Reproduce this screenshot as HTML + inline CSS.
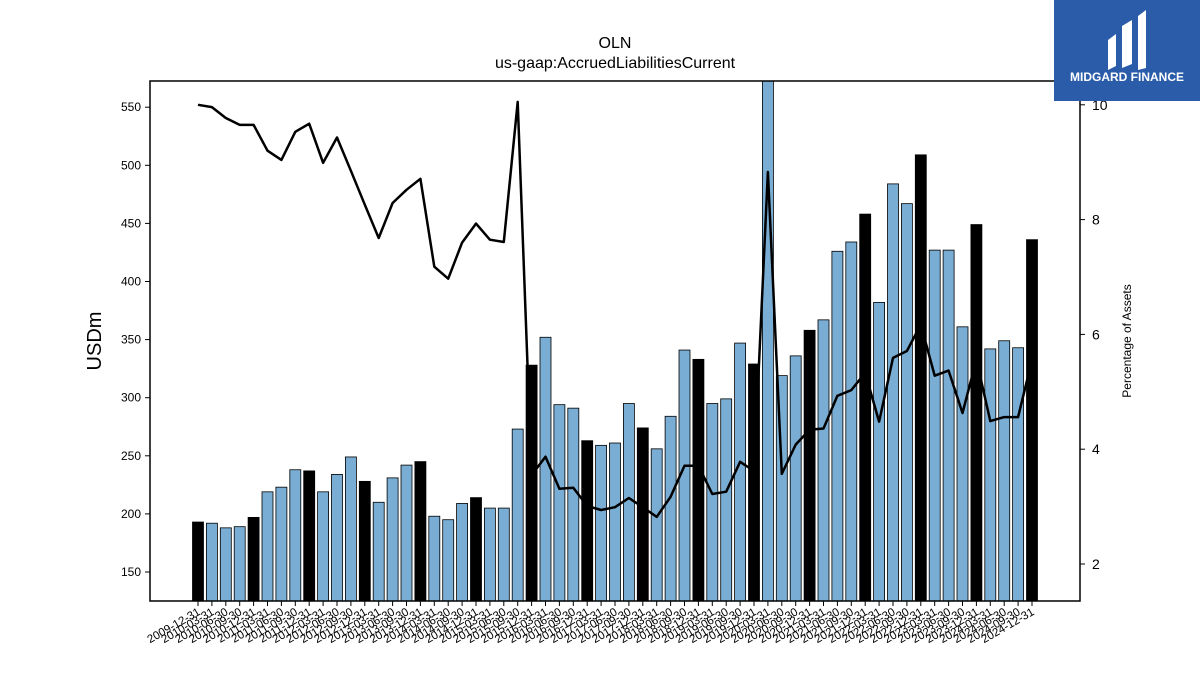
<!DOCTYPE html>
<html><head><meta charset="utf-8"><style>
html,body{margin:0;padding:0;background:#fff;width:1200px;height:675px;overflow:hidden;font-family:"Liberation Sans","DejaVu Sans",sans-serif}
</style></head><body>
<svg id="chart" width="1200" height="675" xmlns="http://www.w3.org/2000/svg" font-family="Liberation Sans, DejaVu Sans, sans-serif">
<text x="615" y="48" text-anchor="middle" font-size="16">OLN</text>
<text x="615" y="68" text-anchor="middle" font-size="16">us-gaap:AccruedLiabilitiesCurrent</text>
<g id="bars"></g>
<g id="line"></g>
<rect x="150" y="81" width="930" height="520" fill="none" stroke="#000" stroke-width="1.5"/>
<g id="yl"></g>
<g id="yr"></g>
<g id="xa"></g>
<text transform="translate(101,341) rotate(-90)" text-anchor="middle" font-size="20">USDm</text>
<text transform="translate(1131,341) rotate(-90)" text-anchor="middle" font-size="12">Percentage of Assets</text>
<g>
<rect x="1054" y="0" width="146" height="101" fill="#2a5caa"/>
<path d="M1108 40 L1116 34 L1116 66 L1108 70 Z M1122 26 L1132 20 L1132 64 L1122 68 Z M1138 16 L1146 10 L1146 68 L1138 70 Z" fill="#fff"/>
<text x="1127" y="81" text-anchor="middle" font-size="12" font-weight="bold" fill="#fff">MIDGARD FINANCE</text>
</g>
</svg>
<script>
const dates=[];
for(let y=2009;y<=2024;y++){for(const md of ["03-31","06-30","09-30","12-31"]){if(y===2009&&md!=="12-31")continue;dates.push(y+"-"+md);}}
const values=[193,192,188,189,197,219,223,238,237,219,234,249,228,210,231,242,245,198,195,209,214,205,205,273,328,352,294,291,263,259,261,295,274,256,284,341,333,295,299,347,329,580,319,336,358,367,426,434,458,382,484,467,509,427,427,361,449,342,349,343,436];
const pct=[10.0,9.96,9.77,9.65,9.65,9.2,9.04,9.53,9.67,8.99,9.43,8.85,8.26,7.68,8.29,8.52,8.71,7.18,6.97,7.6,7.93,7.65,7.61,10.05,3.55,3.87,3.31,3.33,3.01,2.94,2.99,3.15,2.99,2.82,3.17,3.71,3.71,3.22,3.26,3.78,3.62,8.83,3.57,4.08,4.34,4.36,4.93,5.03,5.33,4.48,5.59,5.71,6.17,5.28,5.37,4.63,5.56,4.49,4.56,4.56,5.56];
const leftTicks=[150,200,250,300,350,400,450,500,550];
const rightTicks=[2,4,6,8,10];
const NS="http://www.w3.org/2000/svg";
const X0=198,DX=(1032-198)/60;
const xs=i=>X0+i*DX;
const yl=v=>572-(v-150)*58.1/50;
const yr=v=>564-(v-2)*57.4;
function mk(t,a,p){const e=document.createElementNS(NS,t);for(const k in a)e.setAttribute(k,a[k]);p.appendChild(e);return e;}
const gb=document.getElementById("bars");
values.forEach((v,i)=>{const top=Math.max(81,yl(v));
const r=mk("rect",{x:xs(i)-5.5,y:top,width:11,height:601-top,fill:(i%4===0)?"#000":"#7aadd3",stroke:"#000","stroke-width":0.8},gb);

});
const pts=pct.map((v,i)=>xs(i).toFixed(1)+","+yr(v).toFixed(1)).join(" ");
const pl=mk("polyline",{points:pts,fill:"none",stroke:"#000","stroke-width":2.5,"stroke-linejoin":"round"},document.getElementById("line"));


const gl=document.getElementById("yl");
leftTicks.forEach(v=>{const y=yl(v);mk("line",{x1:145,x2:150,y1:y,y2:y,stroke:"#000"},gl);
const t=mk("text",{x:141,y:y+4,"text-anchor":"end","font-size":12},gl);t.textContent=v;

});
const gr=document.getElementById("yr");
rightTicks.forEach(v=>{const y=yr(v);mk("line",{x1:1080,x2:1085,y1:y,y2:y,stroke:"#000"},gr);
const t=mk("text",{x:1092,y:y+5,"font-size":14},gr);t.textContent=v;

});
const gx=document.getElementById("xa");
dates.forEach((d,i)=>{const x=xs(i);mk("line",{x1:x,x2:x,y1:601,y2:606,stroke:"#000"},gx);
const t=mk("text",{transform:`translate(${x+3},${614}) rotate(-30)`,"text-anchor":"end","font-size":11.5},gx);t.textContent=d;

});
</script>
</body></html>
